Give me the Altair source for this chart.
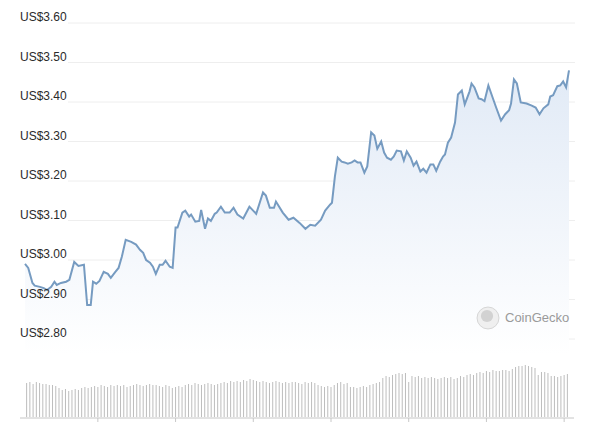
import altair as alt
import pandas as pd

# ---- data ----
hours = [0.0, 1.0, 2.3, 3.0, 4.6, 5.8, 6.8, 8.1, 9.1, 9.8, 11.1, 12.7, 13.7, 15.2, 16.5, 18.2,
         19.2, 20.3, 21.0, 22.0, 23.0, 24.3, 25.6, 26.5, 27.9, 28.9, 29.9, 31.1, 32.8, 34.3,
         35.5, 36.5, 37.4, 38.6, 39.5, 40.4, 41.6, 42.5, 43.4, 44.7, 45.6, 46.5, 47.1, 48.6,
         49.5, 50.7, 51.3, 52.6, 53.8, 54.4, 55.6, 56.5, 57.4, 58.6, 59.2, 60.5, 61.7, 63.2,
         64.4, 65.6, 67.4, 69.3, 71.4, 73.5, 74.4, 75.6, 76.9, 77.5, 79.6, 81.4, 82.9, 84.8,
         86.6, 88.1, 89.6, 91.4, 92.7, 94.2, 94.8, 95.7, 96.6, 97.8, 98.7, 99.7, 100.9, 101.8,
         102.7, 103.6, 104.8, 105.7, 106.9, 107.9, 108.8, 110.0, 110.9, 111.8, 113.0, 113.9,
         114.8, 116.1, 117.0, 117.9, 119.1, 120.0, 120.9, 122.1, 123.0, 124.0, 125.2, 126.1,
         127.0, 128.2, 129.1, 129.7, 130.6, 131.6, 132.8, 133.7, 134.9, 135.8, 137.3, 137.9,
         138.8, 140.1, 141.0, 141.9, 143.1, 144.3, 145.5, 147.0, 148.3, 149.5, 150.1, 151.0,
         151.9, 153.1, 154.9, 156.5, 157.7, 158.9, 160.1, 161.6, 162.2, 163.1, 164.4, 165.3,
         166.2, 167.1, 168.0]
prices = [2.990, 2.980, 2.942, 2.935, 2.932, 2.929, 2.924, 2.932, 2.945, 2.937, 2.942, 2.945,
          2.950, 2.995, 2.985, 2.988, 2.886, 2.886, 2.945, 2.940, 2.947, 2.970, 2.965, 2.955,
          2.970, 2.980, 3.008, 3.051, 3.046, 3.039, 3.026, 3.018, 3.000, 2.993, 2.983, 2.965,
          2.988, 2.988, 2.998, 2.983, 2.980, 3.082, 3.082, 3.120, 3.125, 3.110, 3.115, 3.097,
          3.099, 3.127, 3.079, 3.105, 3.099, 3.117, 3.120, 3.135, 3.120, 3.120, 3.132, 3.115,
          3.105, 3.135, 3.117, 3.171, 3.163, 3.132, 3.132, 3.148, 3.120, 3.102, 3.107, 3.094,
          3.079, 3.089, 3.087, 3.102, 3.125, 3.140, 3.145, 3.211, 3.259, 3.249, 3.247, 3.244,
          3.247, 3.252, 3.247, 3.247, 3.221, 3.237, 3.323, 3.315, 3.282, 3.300, 3.272, 3.259,
          3.254, 3.262, 3.277, 3.275, 3.252, 3.275, 3.259, 3.239, 3.249, 3.224, 3.231, 3.221,
          3.242, 3.242, 3.226, 3.249, 3.262, 3.267, 3.297, 3.310, 3.348, 3.419, 3.429, 3.394,
          3.427, 3.447, 3.437, 3.409, 3.407, 3.402, 3.442, 3.414, 3.386, 3.353, 3.369, 3.379,
          3.396, 3.457, 3.447, 3.399, 3.396, 3.391, 3.386, 3.369, 3.384, 3.394, 3.414, 3.417,
          3.440, 3.442, 3.452, 3.437, 3.480]
volumes = [35, 36, 34, 36, 35, 34, 34, 33, 33, 32,
           30, 28, 29, 27, 28, 29, 28, 30, 31, 30,
           31, 32, 31, 33, 32, 31, 33, 32, 33, 32,
           33, 31, 32, 33, 34, 33, 32, 33, 34, 33,
           33, 32, 31, 33, 32, 30, 31, 32, 31, 33,
           34, 33, 35, 34, 33, 34, 35, 34, 33, 34,
           35, 36, 35, 37, 36, 37, 36, 38, 37, 39,
           38, 37, 36, 37, 36, 35, 36, 37, 36, 35,
           36, 35, 36, 36, 35, 34, 36, 35, 36, 35,
           33, 32, 31, 32, 31, 33, 35, 36, 34, 35,
           31, 31, 30, 31, 32, 31, 33, 34, 35, 36,
           40, 42, 41, 43, 44, 45, 44, 45, 36, 42,
           41, 42, 40, 41, 40, 41, 40, 39, 40, 41,
           40, 41, 39, 40, 42, 41, 43, 44, 43, 45,
           46, 45, 47, 46, 48, 47, 47, 48, 48, 47,
           49, 51, 52, 52, 53, 52, 51, 50, 43, 46,
           46, 45, 42, 42, 41, 42, 43, 44]
grid_values = [2.80, 2.90, 3.00, 3.10, 3.20, 3.30, 3.40, 3.50, 3.60]
tick_labels = ["US$2.80", "US$2.90", "US$3.00", "US$3.10", "US$3.20",
               "US$3.30", "US$3.40", "US$3.50", "US$3.60"]
day_ticks = [22.5, 46.5, 70.5, 94.5, 118.5, 142.5, 166.5]

W, H = 554, 395
FONT = "Liberation Sans"

xs = alt.Scale(domain=[0, 168], nice=False, zero=False)
ps = alt.Scale(domain=[2.60, 3.60], nice=False, zero=False)
vs = alt.Scale(domain=[0, 395], nice=False, zero=True)

price_df = pd.DataFrame({"hour": hours, "price": prices})
vol_df = pd.DataFrame({"hour": [i + 0.5 for i in range(len(volumes))], "volume": volumes})
grid_df = pd.DataFrame({"value": grid_values, "label": tick_labels})
tick_df = pd.DataFrame({"hour": day_ticks})
brand_df = pd.DataFrame({"t": ["CoinGecko"]})

grid = alt.Chart(grid_df).mark_rule(color="#eeeeee", strokeWidth=1).encode(
    y=alt.Y("value:Q", scale=ps, axis=None),
    x=alt.value(48), x2=alt.value(W + 1))

labels = alt.Chart(grid_df).mark_text(
    align="left", baseline="alphabetic", dy=-2, font=FONT, fontSize=12, color="#2a2a2a"
).encode(y=alt.Y("value:Q", scale=ps, axis=None), x=alt.value(0), text="label:N")

area = alt.Chart(price_df).mark_area(
    color=alt.Gradient(gradient="linear",
                       stops=[alt.GradientStop(color="#e1eaf6", offset=0),
                              alt.GradientStop(color="#ffffff", offset=1)],
                       x1=1, x2=1, y1=0, y2=1)
).encode(x=alt.X("hour:Q", scale=xs, axis=None),
         y=alt.Y("price:Q", scale=ps, axis=None),
         y2=alt.datum(2.76))

line = alt.Chart(price_df).mark_line(color="#769bc1", strokeWidth=2).encode(
    x=alt.X("hour:Q", scale=xs, axis=None),
    y=alt.Y("price:Q", scale=ps, axis=None))

bars = alt.Chart(vol_df).mark_bar(size=1, color="#bdbdbd").encode(
    x=alt.X("hour:Q", scale=xs, axis=None),
    y=alt.Y("volume:Q", scale=vs, axis=None))

baseline = alt.Chart(tick_df).mark_rule(color="#e2e2e2").encode(
    x=alt.value(0), x2=alt.value(W), y=alt.value(H))

ticks = alt.Chart(tick_df).mark_rule(color="#c8c8c8").encode(
    x=alt.X("hour:Q", scale=xs, axis=None), y=alt.value(H), y2=alt.value(H + 4))

logo = alt.Chart(brand_df).mark_point(
    shape="circle", filled=True, size=480, fill="#efefef", stroke="#d6d6d6", strokeWidth=1, opacity=1
).encode(x=alt.value(468), y=alt.value(295))

logo_inner = alt.Chart(brand_df).mark_point(
    shape="circle", filled=True, size=150, color="#d2d2d2", opacity=1
).encode(x=alt.value(467), y=alt.value(293))

brand = alt.Chart(brand_df).mark_text(
    align="left", baseline="middle", font=FONT, fontSize=13, color="#9a9a9a"
).encode(x=alt.value(485), y=alt.value(295), text="t:N")

chart = alt.layer(
    grid, area, bars, baseline, ticks, line, labels, logo, logo_inner, brand
).resolve_scale(y="independent").properties(
    width=W, height=H,
    padding={"left": 12, "top": 15, "right": 10, "bottom": 6},
    autosize=alt.AutoSizeParams(type="none"),
).configure_view(stroke=None)

chart.save("out.html", embed_options={"renderer": "svg", "actions": False})
